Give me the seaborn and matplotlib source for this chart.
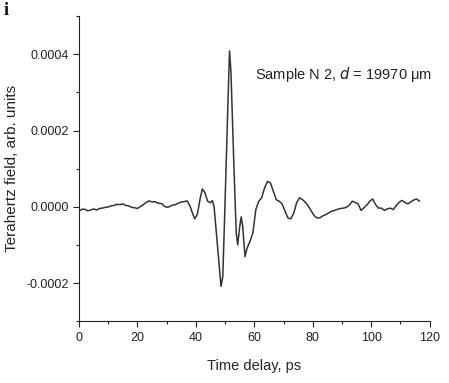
import matplotlib
matplotlib.use("Agg")
import matplotlib.pyplot as plt
import seaborn as sns
import pandas as pd
from matplotlib.ticker import FixedLocator

# Time delay (ps)
time_ps = [0, 1, 2, 3, 4, 5, 6, 7, 8, 9, 10, 11, 12, 13, 14, 15, 16, 17, 18, 19,
           20, 21, 22, 23, 24, 25, 26, 27, 28, 28.5, 29, 30, 31, 32, 33, 34, 35, 36, 37,
           38, 39, 39.6, 40.5, 41.5, 42.2, 43, 44, 45, 45.6, 46.2, 47, 48, 48.6, 49.2,
           50, 51, 51.5, 52, 53, 53.8, 54.3, 55, 55.5, 56, 56.8, 57.5, 58.5, 59.5,
           60.5, 61.5, 62.5, 63.5, 64.5, 65.5, 66.5, 67.5, 68.5, 69.5, 70.5, 71.5,
           72.5, 73.5, 74.5, 75.5, 76.5, 77.5, 78.5, 79.5, 80.5, 81.5, 82.5, 83.5,
           84.5, 85.5, 86.5, 87.5, 88.5, 89.5, 90.5, 91.5, 92.5, 93.5, 94.5, 95.5,
           96.5, 97.5, 98.5, 99.5, 100.5, 101.5, 102.5, 103.5, 104.5, 105.5, 106.5,
           107.5, 108.5, 109.5, 110.5, 111.5, 112.5, 113.5, 114.5, 115.5, 116.5]

# Terahertz field (arb. units, x1e-5)
field_e5 = [-1.1, -0.6, -0.6, -1.0, -0.8, -0.5, -0.8, -0.4, -0.3, -0.1, 0.0, 0.3, 0.4, 0.7, 0.6, 0.8, 0.4, 0.3, -0.1, -0.2,
            -0.4, 0.1, 0.6, 1.2, 1.6, 1.3, 1.4, 1.0, 0.9, 0.8, 0.3, -0.1, 0.1, 0.5, 0.6, 1.0, 1.3, 1.4, 1.6,
            0.2, -2.0, -3.1, -1.9, 2.4, 4.7, 3.9, 1.5, 1.1, 1.7, 0.2, -6.8, -15.6, -20.8, -18.2,
            1.9, 28.2, 40.9, 35.2, 10.7, -6.8, -9.9, -5.1, -2.6, -5.1, -13.0, -10.8, -9.0, -6.8,
            -0.7, 1.5, 2.4, 5.0, 6.7, 6.3, 4.1, 1.9, 1.5, 0.8, -1.1, -2.9,
            -3.1, -1.6, 1.2, 2.4, 1.9, 1.2, 0.2, -1.1, -2.3, -2.9, -2.8, -2.3,
            -2.0, -1.5, -1.1, -0.9, -0.6, -0.4, -0.3, -0.1, 0.5, 1.5, 1.2, 0.8,
            -0.9, -0.2, 0.5, 1.5, 2.1, 0.6, -0.3, -0.3, -0.9, -0.5, -0.3,
            -0.7, 0.3, 1.2, 1.7, 1.2, 0.8, 1.3, 1.8, 2.1, 1.5]

x_ticks = [0, 20, 40, 60, 80, 100, 120]
y_ticks = [-0.0002, 0.0000, 0.0002, 0.0004]
y_tick_labels = ["-0.0002", "0.0000", "0.0002", "0.0004"]

df = pd.DataFrame({"t": time_ps, "E": [v * 1e-5 for v in field_e5]})

sns.set_style("ticks")
plt.rcParams["font.family"] = ["Liberation Sans", "DejaVu Sans"]

fig = plt.figure(figsize=(4.49, 3.83), dpi=100)
ax = fig.add_axes([0.176, 0.1606, 0.781, 0.7974])

sns.lineplot(data=df, x="t", y="E", ax=ax, color="#333333", linewidth=1.1, sort=False)

ax.set_xlim(0, 120)
ax.set_ylim(-0.0003, 0.0005)
ax.xaxis.set_major_locator(FixedLocator(x_ticks))
ax.xaxis.set_minor_locator(FixedLocator(list(range(10, 120, 20))))
ax.yaxis.set_major_locator(FixedLocator(y_ticks))
ax.set_yticklabels(y_tick_labels)
ax.yaxis.set_minor_locator(FixedLocator([-0.0003, -0.0001, 0.0001, 0.0003, 0.0005]))
ax.tick_params(axis="both", which="major", direction="out", length=4, width=0.8,
               labelsize=9, colors="#222222", labelcolor="#222222")
ax.tick_params(axis="both", which="minor", direction="out", length=2.5, width=0.8, colors="#222222")

for s in ["top", "right"]:
    ax.spines[s].set_visible(False)
for s in ["left", "bottom"]:
    ax.spines[s].set_linewidth(0.8)
    ax.spines[s].set_color("#222222")

ax.set_xlabel("Time delay, ps", fontsize=10.5, color="#222222", labelpad=11)
ax.set_ylabel("Terahertz field, arb. units", fontsize=11, color="#222222", labelpad=5)

ax.text(60.3, 0.000347, "Sample N 2, $\\mathit{d}$ = 19970 \u03bcm", fontsize=10.5,
        color="#222222", va="center", ha="left")

fig.text(0.008, 0.995, "i", fontsize=13, fontweight="bold", family="Liberation Serif",
         va="top", ha="left", color="#111111")

fig.savefig("out.png", dpi=100)
